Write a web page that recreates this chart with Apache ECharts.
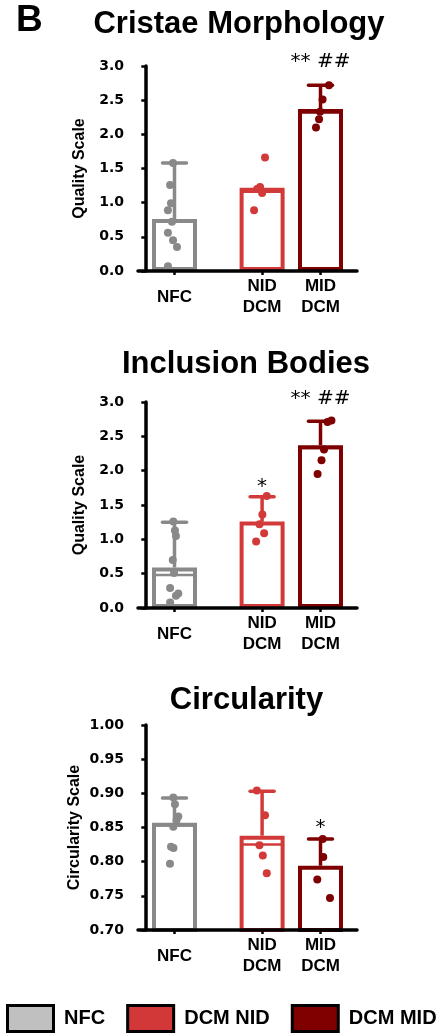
<!DOCTYPE html>
<html><head><meta charset="utf-8">
<script src="https://cdn.jsdelivr.net/npm/echarts@6/dist/echarts.min.js"></script>
<style>html,body{margin:0;padding:0;background:#fff}#c{width:446px;height:1036px}</style>
</head><body><div id="c"></div>
<script>
// ---------- data ----------
const groups = ['NFC', 'DCM NID', 'DCM MID'];
const categoryLabels = ['NFC', 'NID\nDCM', 'MID\nDCM'];
const panelTitles = ['Cristae Morphology', 'Inclusion Bodies', 'Circularity'];
const yAxisNames = ['Quality Scale', 'Quality Scale', 'Circularity Scale'];
const yMin = [0, 0, 0.7];
const yMax = [3, 3, 1.0];
const yInterval = [0.5, 0.5, 0.05];
const yDecimals = [1, 1, 2];

// Panel 1: Cristae Morphology
const cristaeMean = [0.76, 1.22, 2.37];
const cristaeMedian = [null, 1.16, 2.32];
const cristaeUpper = [1.58, null, 2.72];
const cristaeNFC = [1.58, 1.26, 0.99, 0.89, 0.72, 0.56, 0.45, 0.35, 0.07];
const cristaeNID = [1.66, 1.23, 1.20, 1.14, 0.89];
const cristaeMID = [2.72, 2.51, 2.33, 2.22, 2.10];
const cristaeNFCJitter = [-0.1, -0.3, -0.24, -0.45, -0.17, -0.45, -0.1, 0.17, -0.45];
const cristaeNIDJitter = [0.2, -0.14, -0.34, 0, -0.55];
const cristaeMIDJitter = [0.58, 0.14, -0.03, -0.1, -0.31];
const cristaeMarks = ['', '', '** ##'];
const cristaeMarkY = [null, null, 3.06];

// Panel 2: Inclusion Bodies
const inclusionMean = [0.59, 1.26, 2.37];
const inclusionMedian = [0.48, null, 2.33];
const inclusionUpper = [1.25, 1.62, 2.72];
const inclusionNFC = [1.26, 1.13, 1.05, 0.70, 0.51, 0.29, 0.21, 0.18, 0.08];
const inclusionNID = [1.63, 1.36, 1.22, 1.09, 0.97];
const inclusionMID = [2.73, 2.71, 2.31, 2.15, 1.95];
const inclusionNFCJitter = [-0.08, 0.03, 0.1, -0.12, -0.03, -0.3, 0.26, 0.1, -0.3];
const inclusionNIDJitter = [0.32, 0.02, -0.18, 0.14, -0.41];
const inclusionMIDJitter = [0.75, 0.48, 0.24, 0.07, -0.2];
const inclusionMarks = ['', '*', '** ##'];
const inclusionMarkY = [null, 1.77, 3.04];

// Panel 3: Circularity
const circularityMean = [0.857, 0.838, 0.794];
const circularityMedian = [0.853, 0.825, null];
const circularityUpper = [0.893, 0.903, 0.833];
const circularityNFC = [0.894, 0.884, 0.866, 0.861, 0.851, 0.822, 0.820, 0.797];
const circularityNID = [0.904, 0.868, 0.824, 0.809, 0.783];
const circularityMID = [0.833, 0.807, 0.774, 0.747];
const circularityNFCJitter = [-0.08, 0.03, 0.26, 0.14, -0.08, -0.24, -0.07, -0.31];
const circularityNIDJitter = [-0.36, 0.2, -0.18, 0.05, 0.32];
const circularityMIDJitter = [0.15, 0.19, -0.22, 0.65];
const circularityMarks = ['', '', '*'];
const circularityMarkY = [null, null, 0.849];

// ---------- style / layout ----------
const FONT = "'Liberation Sans', Arial, sans-serif";
const lineColors = ['#898989', '#d23a3a', '#7e0000'];
const legendFills = ['#c0c0c0', '#d23838', '#800000'];
const SLOT_COUNT = 15;
const slotOf = [2, 8, 12];
const gridTops = [66, 402, 725];
const gridHeights = [205, 206, 205];
const titlePos = [[239, 24.5], [246, 364], [246.5, 700.5]];
const nameGaps = [50, 50, 55];

const panels = [
  {mean: cristaeMean, median: cristaeMedian, upper: cristaeUpper,
   points: [cristaeNFC, cristaeNID, cristaeMID], jitter: [cristaeNFCJitter, cristaeNIDJitter, cristaeMIDJitter],
   marks: cristaeMarks, markY: cristaeMarkY},
  {mean: inclusionMean, median: inclusionMedian, upper: inclusionUpper,
   points: [inclusionNFC, inclusionNID, inclusionMID], jitter: [inclusionNFCJitter, inclusionNIDJitter, inclusionMIDJitter],
   marks: inclusionMarks, markY: inclusionMarkY},
  {mean: circularityMean, median: circularityMedian, upper: circularityUpper,
   points: [circularityNFC, circularityNID, circularityMID], jitter: [circularityNFCJitter, circularityNIDJitter, circularityMIDJitter],
   marks: circularityMarks, markY: circularityMarkY}
];

const slotCategories = Array.from({length: SLOT_COUNT}, (_, i) => {
  const g = slotOf.indexOf(i);
  return g >= 0 ? categoryLabels[g] : '';
});

const grids = [], xAxes = [], yAxes = [], series = [], graphics = [];

panels.forEach((P, p) => {
  grids.push({left: 138, right: 89, top: gridTops[p], height: gridHeights[p], containLabel: false});
  xAxes.push({
    type: 'category', gridIndex: p, data: slotCategories, z: 6,
    axisLine: {lineStyle: {color: '#000', width: 3.5}},
    axisTick: {show: true, alignWithLabel: true, length: 4, lineStyle: {color: '#000', width: 2.5},
               interval: (i, v) => v !== ''},
    axisLabel: {interval: 0, margin: 26, verticalAlign: 'middle', lineHeight: 21,
                color: '#000', fontFamily: FONT, fontWeight: 'bold', fontSize: 17}
  });
  xAxes.push({type: 'value', gridIndex: p, min: -0.5, max: SLOT_COUNT - 0.5, show: false});
  yAxes.push({
    type: 'value', gridIndex: p, min: yMin[p], max: yMax[p], interval: yInterval[p], z: 6,
    name: yAxisNames[p], nameLocation: 'middle', nameRotate: 90, nameGap: nameGaps[p],
    nameTextStyle: {color: '#000', fontFamily: FONT, fontWeight: 'bold', fontSize: 16},
    axisLine: {show: true, lineStyle: {color: '#000', width: 3.5}},
    axisTick: {show: true, length: 4, lineStyle: {color: '#000', width: 2.5}},
    splitLine: {show: false},
    axisLabel: {margin: 14, color: '#000', fontFamily: "'DejaVu Sans', sans-serif", fontWeight: 'bold', fontSize: 14,
                formatter: v => v.toFixed(yDecimals[p])}
  });

  groups.forEach((name, g) => {
    const d = slotCategories.map((_, i) => i === slotOf[g] ? P.mean[g] : '-');
    series.push({
      type: 'bar', name: name, xAxisIndex: 2 * p, yAxisIndex: p, data: d,
      barWidth: 45, barGap: '-100%', silent: true, z: 2,
      itemStyle: {color: '#ffffff', borderColor: lineColors[g], borderWidth: 4}
    });
  });

  series.push({
    type: 'custom', name: 'errors' + p, xAxisIndex: 2 * p, yAxisIndex: p, z: 3, silent: true,
    data: groups.map((_, g) => [slotOf[g], P.mean[g]]),
    renderItem: (params, api) => {
      const g = params.dataIndex, x = slotOf[g], color = lineColors[g];
      const top = api.coord([x, P.mean[g]]);
      const kids = [];
      if (P.upper[g] != null) {
        const up = api.coord([x, P.upper[g]]);
        kids.push({type: 'line', shape: {x1: top[0], y1: top[1], x2: up[0], y2: up[1]},
                   style: {stroke: color, lineWidth: 3.5}});
        kids.push({type: 'line', shape: {x1: up[0] - 12, y1: up[1], x2: up[0] + 12, y2: up[1]},
                   style: {stroke: color, lineWidth: 3.5, lineCap: 'round'}});
      }
      if (P.median[g] != null) {
        const m = api.coord([x, P.median[g]]);
        kids.push({type: 'line', shape: {x1: m[0] - 22, y1: m[1], x2: m[0] + 22, y2: m[1]},
                   style: {stroke: color, lineWidth: 2.5}});
      }
      return {type: 'group', children: kids};
    }
  });

  groups.forEach((name, g) => {
    series.push({
      type: 'scatter', name: name + ' points', xAxisIndex: 2 * p + 1, yAxisIndex: p, z: 4, silent: true,
      symbol: 'circle', symbolSize: 8,
      itemStyle: {color: lineColors[g], opacity: 1},
      data: P.points[g].map((v, k) => [slotOf[g] + P.jitter[g][k], v])
    });
  });

  series.push({
    type: 'custom', name: 'marks' + p, xAxisIndex: 2 * p, yAxisIndex: p, z: 5, silent: true, clip: false,
    data: groups.map((_, g) => [slotOf[g], P.markY[g] == null ? yMin[p] : P.markY[g]]),
    renderItem: (params, api) => {
      const g = params.dataIndex;
      if (!P.marks[g]) return null;
      const c = api.coord([slotOf[g], P.markY[g]]);
      return {type: 'text', x: c[0], y: c[1],
              style: {text: P.marks[g], fill: '#000', font: "20px 'DejaVu Sans', sans-serif",
                      textAlign: 'center', textVerticalAlign: 'middle'}};
    }
  });

  graphics.push({type: 'text', x: titlePos[p][0], y: titlePos[p][1],
    style: {text: panelTitles[p], fill: '#000', font: "bold 31px " + FONT,
            textAlign: 'center', textVerticalAlign: 'middle'}});
});

graphics.push({type: 'text', x: 16, y: 21,
  style: {text: 'B', fill: '#000', font: "bold 37px " + FONT, textAlign: 'left', textVerticalAlign: 'middle'}});

const chart = echarts.init(document.getElementById('c'), null, {renderer: 'canvas'});
chart.setOption({
  animation: false,
  backgroundColor: '#ffffff',
  grid: grids,
  xAxis: xAxes,
  yAxis: yAxes,
  legend: {
    data: groups.map((n, g) => ({name: n, itemStyle: {color: legendFills[g], borderColor: '#000', borderWidth: 3}})),
    icon: 'rect', left: 6, top: 1004, padding: 0, itemWidth: 46, itemHeight: 26, itemGap: 21,
    selectedMode: false,
    formatter: n => ' ' + n,
    textStyle: {color: '#000', fontFamily: FONT, fontWeight: 'bold', fontSize: 20}
  },
  graphic: graphics,
  series: series
});
</script></body></html>
